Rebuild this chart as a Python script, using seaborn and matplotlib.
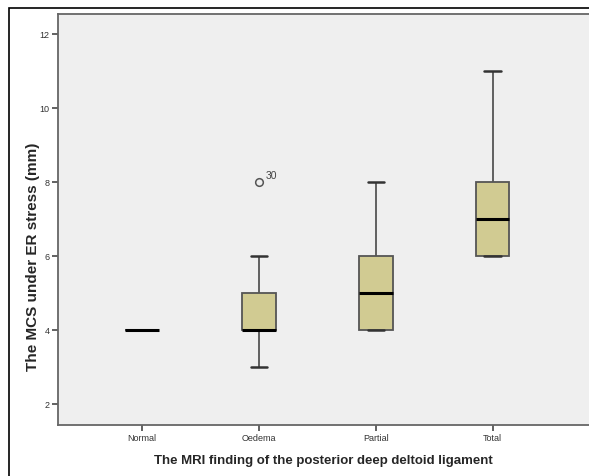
import numpy as np
import pandas as pd
import matplotlib
matplotlib.use("Agg")
import matplotlib.pyplot as plt
from matplotlib.patches import Rectangle
import seaborn as sns

# MCS values (mm) per MRI finding
categories = ["Normal", "Oedema", "Partial", "Total"]
normal = [4, 4, 4]
oedema = [3, 4, 4, 4, 4, 4, 5, 5, 6, 8]
partial = [4, 4, 4, 5, 5, 6, 6, 8]
total = [6, 6, 6, 7, 8, 8, 11]
outlier_case = "30"
outlier_group = "Oedema"
outlier_value = 8

df = pd.DataFrame({
    "group": ["Normal"] * len(normal) + ["Oedema"] * len(oedema)
             + ["Partial"] * len(partial) + ["Total"] * len(total),
    "mcs": normal + oedema + partial + total,
})

sns.set_style("ticks")
plt.rcParams["font.family"] = ["Liberation Sans", "DejaVu Sans"]

fig = plt.figure(figsize=(5.89, 4.77), dpi=100)
ax = fig.add_axes([58 / 589, 1 - 425.5 / 477, 1.0, (425.5 - 15) / 477])

edge = "#555555"
sns.boxplot(data=df, x="group", y="mcs", order=categories, ax=ax,
            color="#D1CB92", saturation=1, width=0.285, linewidth=1.3,
            whis=1.5001,
            boxprops=dict(edgecolor=edge),
            whiskerprops=dict(color=edge),
            capprops=dict(color="#333333", linewidth=1.8),
            medianprops=dict(color="black", linewidth=2.2),
            flierprops=dict(marker="o", markersize=5.5, markerfacecolor="none",
                            markeredgecolor="#555555", markeredgewidth=1.1))

xi = categories.index(outlier_group)
ax.annotate(outlier_case, (xi, outlier_value), xytext=(5, 3),
            textcoords="offset points", fontsize=7.5, color="#444444")

ax.set_facecolor("#EFEFEF")
ax.set_xlim(-0.72, 4.32)
ax.set_ylim(1.44, 12.54)
ax.set_yticks([2, 4, 6, 8, 10, 12])
for s in ["left", "bottom", "top"]:
    ax.spines[s].set_color("#666666")
    ax.spines[s].set_linewidth(1.3)
ax.spines["top"].set_visible(True)
ax.spines["right"].set_visible(False)
ax.tick_params(axis="both", length=4, width=1.3, color="#555555",
               labelsize=6.5, labelcolor="#333333", pad=2)

ax.set_xlabel("The MRI finding of the posterior deep deltoid ligament",
              fontsize=9.5, fontweight="bold")
ax.set_ylabel("The MCS under ER stress (mm)",
              fontsize=11, fontweight="bold")
ax.xaxis.set_label_coords((298 - 58) / 532, -0.072)
ax.yaxis.set_label_coords(-0.031, 0.41)

# outer frame of the original figure
fig.patches.append(Rectangle((9 / 589, -0.2), 1.2, 1.2 - 9 / 477,
                             transform=fig.transFigure, fill=False,
                             edgecolor="black", linewidth=1.2))

fig.savefig("out.png", dpi=100)
